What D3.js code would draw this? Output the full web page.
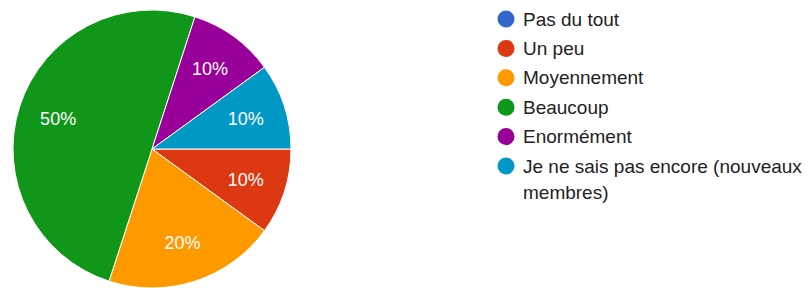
<!DOCTYPE html>
<html>
<head>
<meta charset="utf-8">
<script src="https://cdn.jsdelivr.net/npm/d3@7"></script>
<style>
  body { margin: 0; background: #fff; }
  svg { display: block; font-family: "Liberation Sans", Arial, sans-serif; }
</style>
</head>
<body>
<div id="chart"></div>
<script>
// answer categories and share of responses (%)
var categories = ["Pas du tout", "Un peu", "Moyennement", "Beaucoup", "Enormément", "Je ne sais pas encore (nouveaux membres)"];
var values = [0, 10, 20, 50, 10, 10];
var colors = ["#3366cc", "#dc3912", "#ff9900", "#109618", "#990099", "#0099c6"];

var width = 809, height = 288;
var cx = 152, cy = 149, radius = 139;

var svg = d3.select("#chart").append("svg")
    .attr("width", width)
    .attr("height", height);

var data = categories.map(function(c, i) { return {name: c, value: values[i], color: colors[i]}; });

var pie = d3.pie()
    .sort(null)
    .value(function(d) { return d.value; })
    .startAngle(Math.PI / 2)
    .endAngle(Math.PI / 2 + 2 * Math.PI);

var arc = d3.arc().innerRadius(0).outerRadius(radius);
var labelArc = d3.arc().innerRadius(radius * 0.71).outerRadius(radius * 0.71);

var g = svg.append("g").attr("transform", "translate(" + cx + "," + cy + ")");

var slices = pie(data).filter(function(d) { return d.data.value > 0; });

g.selectAll("path")
    .data(slices)
    .enter().append("path")
    .attr("d", arc)
    .attr("fill", function(d) { return d.data.color; })
    .attr("stroke", "#fff")
    .attr("stroke-width", 1);

g.selectAll("text")
    .data(slices)
    .enter().append("text")
    .attr("transform", function(d) { return "translate(" + labelArc.centroid(d) + ")"; })
    .attr("text-anchor", "middle")
    .attr("dy", "0.35em")
    .attr("fill", "#fff")
    .style("font-size", "18px")
    .text(function(d) { return d.data.value + "%"; });

// legend
var legend = svg.append("g").attr("transform", "translate(506,19)");
var rowH = 29.4;

var rows = legend.selectAll("g")
    .data(data)
    .enter().append("g")
    .attr("transform", function(d, i) { return "translate(0," + (i * rowH) + ")"; });

rows.append("circle")
    .attr("r", 8.5)
    .attr("fill", function(d) { return d.color; });

rows.append("text")
    .attr("x", 17)
    .attr("fill", "#222")
    .style("font-size", "19px")
    .each(function(d) {
      var t = d3.select(this);
      var lines = d.name === categories[5] ? ["Je ne sais pas encore (nouveaux", "membres)"] : [d.name];
      lines.forEach(function(l, k) {
        t.append("tspan").attr("x", 17).attr("dy", k === 0 ? "0.35em" : "26").text(l);
      });
    });
</script>
</body>
</html>
